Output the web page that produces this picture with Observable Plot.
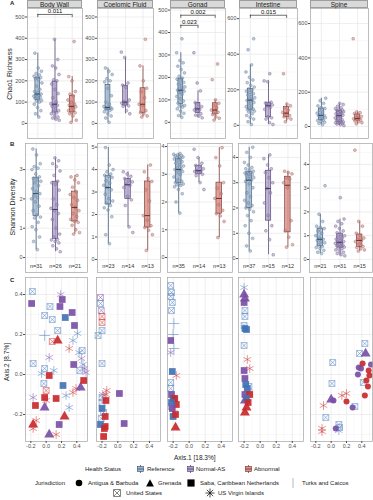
<!DOCTYPE html>
<html><head><meta charset="utf-8">
<script src="https://cdn.jsdelivr.net/npm/d3@7"></script>
<script src="https://cdn.jsdelivr.net/npm/@observablehq/plot@0.6"></script>
<style>
body{margin:0;background:#fff;}
#fig{position:relative;width:373px;height:500px;overflow:hidden;font-family:"Liberation Sans",Arial,sans-serif;color:#1a1a1a;}
.strip{position:absolute;background:#d9d9d9;border:0.6px solid #9e9e9e;box-sizing:border-box;font-size:6.5px;text-align:center;line-height:7px;color:#1a1a1a;}
.ytitle{position:absolute;font-size:7px;transform:translate(-50%,-50%) rotate(-90deg);white-space:nowrap;}
.t{position:absolute;white-space:nowrap;transform:translateY(-50%);font-size:6px;line-height:8px;}
.letter{position:absolute;font-size:6px;font-weight:bold;}
.sym{position:absolute;transform:translateY(-50%);}
</style></head><body><div id="fig"></div><script>
// ---------------- DATA ----------------
const tissues = ["Body Wall","Coelomic Fluid","Gonad","Intestine","Spine"];
const statuses = ["Reference","Normal-AS","Abnormal"];
const jurisdictions = ["Antigua & Barbuda","Grenada","Saba, Caribbean Netherlands","Turks and Caicos","United States","US Virgin Islands"];

// Chao1 richness, per tissue: [Reference, Normal-AS, Abnormal]
const chaoBodyWall = [
  [30,45,60,75,90,100,105,108,112,118,122,125,128,132,135,138,145,150,160,175,190,205,210,215,218,222,228,235,245,260,330],
  [15,20,25,30,38,45,50,55,60,70,80,85,88,92,100,120,140,160,185,200,205,230,260,270,300,395],
  [5,15,35,45,50,52,60,65,72,78,80,85,90,100,110,130,137,150,200,220,385]];
const chaoCoelomic = [
  [5,25,35,45,55,60,65,68,70,72,74,75,80,90,100,130,165,195,200,210,230,245,260],
  [45,60,80,82,90,95,98,102,110,170,180,190,310,335],
  [30,35,45,50,60,85,90,120,150,165,200,270,395]];
const chaoGonad = [
  [22,30,40,50,60,68,72,75,78,85,95,105,115,125,132,138,140,143,148,152,158,165,170,178,185,192,197,205,220,235,250,265,275,310,372],
  [20,28,32,38,50,55,58,62,70,80,88,140,175,310],
  [10,18,25,35,45,50,55,65,75,85,100,190,260]];
const chaoIntestine = [
  [5,20,35,45,55,65,75,80,85,88,92,98,105,112,120,128,135,140,142,148,155,162,170,178,185,192,200,205,215,225,240,255,270,300,340,425,487],
  [5,15,35,42,48,90,100,110,115,120,125,130,245,250,290],
  [20,35,42,48,55,65,72,85,100,110,120,290]];
const chaoSpine = [
  [10,18,25,30,35,38,45,52,58,62,65,70,78,85,95,105,110,120,135,150,165],
  [5,10,14,18,20,22,23,24,26,30,35,40,45,50,58,63,66,70,74,78,82,86,90,94,96,100,105,110,118,128,135],
  [15,22,28,32,38,42,45,47,52,58,65,75,80,85,512]];

// Shannon diversity, per tissue: [Reference, Normal-AS, Abnormal]
const shanBodyWall = [
  [0.27,0.55,0.7,0.95,1.05,1.2,1.35,1.38,1.45,1.6,1.75,1.9,2.0,2.05,2.1,2.18,2.25,2.35,2.45,2.55,2.6,2.65,2.7,2.75,2.85,3.0,3.05,3.1,3.2,3.5,3.7],
  [0.2,0.3,0.4,0.5,0.55,0.6,0.62,0.7,0.8,1.0,1.3,1.5,1.6,1.68,1.8,2.0,2.3,2.5,2.55,2.6,2.8,2.95,3.1,3.2,3.3,3.4],
  [0.8,0.85,0.95,1.1,1.2,1.23,1.3,1.4,1.5,1.6,1.71,1.8,1.95,2.05,2.15,2.25,2.4,2.55,2.65,2.75,2.8]];
const shanCoelomic = [
  [0.7,1.1,1.9,2.2,2.3,2.4,2.5,2.6,2.7,2.9,3.1,3.2,3.3,3.4,3.5,3.65,3.7,3.75,3.8,3.9,4.0,4.2,4.98],
  [1.2,1.45,2.4,2.65,2.8,3.2,3.3,3.35,3.45,3.5,3.6,3.7,3.8,3.9],
  [0.4,1.1,1.3,1.42,1.5,1.75,1.95,2.6,3.1,3.47,3.6,3.9,4.2]];
const shanGonad = [
  [1.6,2.0,2.3,2.45,2.55,2.6,2.62,2.65,2.66,2.7,2.75,2.8,2.9,3.0,3.05,3.1,3.15,3.17,3.2,3.25,3.3,3.35,3.4,3.45,3.5,3.55,3.57,3.6,3.62,3.64,3.66,3.68,3.7,3.72,3.75],
  [2.45,2.7,2.95,3.0,3.05,3.1,3.12,3.14,3.2,3.28,3.32,3.4,3.6,3.9],
  [0.72,1.3,1.5,1.58,1.7,1.9,2.13,2.3,2.5,2.7,3.3,3.6,3.96]];
const shanIntestine = [
  [0.3,0.5,0.8,1.0,1.3,1.5,1.7,1.85,1.95,2.0,2.1,2.2,2.3,2.45,2.6,2.8,2.95,3.05,3.1,3.15,3.2,3.25,3.3,3.32,3.35,3.38,3.4,3.42,3.45,3.5,3.55,3.6,3.7,3.8,4.0,4.2,4.4],
  [0.15,0.75,1.1,1.3,1.7,2.2,2.6,2.77,3.0,3.2,3.4,3.55,3.7,3.95,4.1],
  [0.45,0.55,0.85,1.1,1.5,2.8,3.0,3.15,3.2,3.35,3.4,3.45]];
const shanSpine = [
  [0.25,0.3,0.38,0.45,0.5,0.55,0.62,0.7,0.75,0.8,0.85,0.9,1.0,1.1,1.2,1.3,1.35,1.4,1.6,1.9,3.1],
  [0.15,0.2,0.25,0.3,0.35,0.4,0.45,0.48,0.52,0.55,0.58,0.6,0.65,0.68,0.7,0.72,0.75,0.8,0.85,0.9,0.95,1.0,1.05,1.12,1.2,1.3,1.4,1.5,1.6,1.7,2.6],
  [0.35,0.4,0.45,0.5,0.55,0.65,0.75,0.8,0.85,0.9,1.0,1.1,1.4,1.6,4.6]];

const nLabels = [["n=31","n=26","n=21"],["n=23","n=14","n=13"],["n=35","n=14","n=13"],["n=37","n=15","n=12"],["n=21","n=31","n=15"]];

// significance brackets: [group1, group2, value, label]
const sigBodyWall = [[1,3,512,"0.011"]];
const sigGonad = [[1,3,477,"0.002"],[1,2,432,"0.023"]];
const sigIntestine = [[1,3,619,"0.015"]];

// tick labels
const chaoTicks = [[0,100,200,300,400,500],[0,100,200,300,400,500],[0,100,200,300,400,500],[0,200,400,600],[0,200,400,600]];
const shanTicks = [[0,1,2,3],[0,1,2,3,4,5],[0,1,2,3,4],[0,1,2,3,4],[0,1,2,3,4]];
const pcoaTicks = [-0.2,0,0.2,0.4];

// PCoA points: [Axis.1, Axis.2, status index, jurisdiction index]
const pcoaBodyWall = [
 [-0.18,0.415,0,4],[-0.19,0.355,1,2],[0.19,0.40,1,5],[0.21,0.375,1,2],[0.05,0.34,0,4],[0.18,0.34,1,2],[0.34,0.31,1,2],
 [0.25,0.285,0,2],[-0.02,0.295,0,4],[0.08,0.275,0,4],[0.37,0.245,1,2],[0.15,0.22,0,4],[-0.02,0.195,0,3],[0.41,0.205,0,5],
 [0.15,0.17,2,1],[0.08,0.165,2,4],[0.30,0.13,2,5],[0.35,0.17,0,5],[-0.17,0.055,0,4],[0.04,0.085,1,5],[0.36,0.05,1,2],
 [0.43,0.11,0,5],[0.46,0.08,1,5],[0.48,0.05,0,5],[0.50,0.03,1,5],[0.44,0.02,0,4],[0.52,0.01,1,5],[0.47,0.12,0,4],
 [-0.02,0.03,0,4],[0.10,0.02,0,5],[0.04,-0.005,2,2],[-0.06,0.005,0,5],[-0.03,-0.045,0,4],[0.22,-0.055,0,2],
 [0.49,-0.03,2,2],[0.45,-0.065,1,1],[0.39,-0.07,2,5],[0.35,-0.09,2,5],[0.0,-0.08,2,4],[0.26,-0.105,0,5],
 [-0.17,-0.115,1,5],[-0.02,-0.115,2,2],[0.13,-0.12,2,2],[0.0,-0.13,2,5],[-0.14,-0.155,2,2],[-0.02,-0.165,1,1],
 [0.30,-0.165,0,5],[0.24,-0.21,2,1],[-0.13,-0.23,2,5],[-0.17,-0.25,2,1],[0.17,-0.25,1,2],[-0.17,-0.27,2,5],
 [0.04,-0.30,1,1],[0.13,-0.30,2,5]];
const pcoaCoelomic = [
 [-0.22,0.385,1,4],[-0.22,0.355,0,4],[-0.21,0.32,1,4],[-0.2,0.29,2,4],[-0.2,0.26,2,4],[-0.2,0.22,0,4],[-0.25,0.195,0,4],
 [-0.2,0.055,0,4],[-0.14,-0.08,2,5],[-0.2,-0.115,0,4],[0.02,-0.095,1,2],[-0.15,-0.13,2,2],[-0.16,-0.21,2,2],
 [-0.16,-0.26,2,2],[-0.2,-0.17,0,2],[-0.22,-0.25,0,2],[0.08,-0.245,1,2],[-0.2,-0.14,0,4],[-0.18,-0.19,0,4],
 [-0.17,-0.27,2,2],[-0.18,-0.31,2,2],[-0.19,-0.10,1,5],[-0.15,-0.1,2,5],[-0.21,-0.22,0,4]];
const pcoaGonad = [
 [-0.23,0.445,0,4],[-0.22,0.41,0,4],[-0.23,0.39,0,4],[-0.21,0.36,0,4],[-0.22,0.32,0,4],[-0.19,0.255,0,3],[-0.2,0.2,0,3],
 [-0.19,0.13,0,3],[-0.23,0.17,1,2],[-0.23,0.11,1,5],[-0.21,0.015,0,2],[-0.16,-0.005,2,5],[-0.23,-0.04,0,4],
 [-0.23,-0.07,0,4],[-0.22,-0.1,1,2],[-0.2,-0.12,0,2],[-0.18,-0.12,2,2],[-0.16,-0.15,2,2],[-0.22,-0.14,0,2],
 [-0.21,-0.17,1,2],[-0.19,-0.19,2,5],[-0.2,-0.21,0,2],[-0.22,-0.16,0,4],[-0.17,-0.2,2,2],[-0.17,-0.265,2,1]];
const pcoaIntestine = [
 [-0.2,0.435,0,5],[-0.2,0.40,1,1],[-0.19,0.38,1,1],[-0.2,0.36,1,2],[-0.19,0.32,0,4],[-0.19,0.29,0,4],[-0.2,0.245,0,4],
 [-0.19,0.23,0,2],[-0.17,0.225,0,2],[-0.2,0.145,0,4],[-0.16,0.075,2,5],[-0.2,0.02,1,2],[-0.13,0.03,2,5],
 [-0.19,-0.02,1,2],[-0.18,-0.05,0,2],[-0.16,-0.07,0,2],[-0.14,-0.09,0,5],[-0.14,-0.06,0,4],[-0.19,-0.1,1,2],
 [-0.13,-0.1,2,2],[-0.17,-0.12,0,2],[-0.19,-0.13,1,1],[-0.15,-0.14,2,2],[-0.17,-0.165,2,1],[-0.19,-0.19,2,1]];
const pcoaSpine = [
 [0.44,0.155,0,4],[0.37,0.105,0,4],[0.45,0.105,1,1],[0.02,0.06,0,4],[0.36,0.035,1,0],[0.39,0.03,1,0],[0.41,0.055,2,0],
 [0.49,0.02,2,0],[0.5,-0.005,2,0],[0.46,-0.03,2,0],[0.52,0.05,1,0],[0.01,-0.045,0,4],[0.42,-0.04,0,4],
 [0.2,-0.095,2,5],[0.14,-0.105,2,5],[-0.1,-0.155,2,5],[0.03,-0.13,1,0],[0.0,-0.125,1,1],[0.2,-0.135,2,0],
 [0.44,-0.105,2,0],[0.31,-0.16,0,4],[0.28,-0.165,1,0],[-0.07,-0.215,0,4],[0.1,-0.25,0,4],[0.11,-0.265,0,4],
 [0.06,-0.27,1,0],[-0.12,-0.27,2,5],[-0.12,-0.285,2,5],[0.1,-0.28,0,5],[0.48,-0.06,2,0],[0.35,0.0,1,0]];

// ---------------- STYLE ----------------
const FONT = '"Liberation Sans", Arial, sans-serif';
const boxFill = ["#a3bad2","#b1a3cd","#dc938c"];
const boxStroke = ["#2d4969","#463767","#722b27"];
const ptFill = ["#8ea3ba","#9f92b8","#c98e89"];
const ptStroke = ["#5b7898","#6d5c8e","#9f5954"];
const cFill = ["#4173b4","#7a4fa6","#c9292d"];
const cStroke = ["#5c89c6","#8b64b4","#d2413f"];
const ML = 16;
const fig = document.getElementById("fig");

function place(el, left, top){
  el.style.position = "absolute"; el.style.left = left + "px"; el.style.top = top + "px";
  el.style.overflow = "visible"; fig.appendChild(el);
}
function addDiv(cls, text, css){
  const d = document.createElement("div"); d.className = cls; d.textContent = text;
  Object.assign(d.style, css); fig.appendChild(d); return d;
}
function minorOf(ticks, domain){
  const st = ticks[1] - ticks[0], out = [];
  for (let v = ticks[0] - st / 2; v <= domain[1]; v += st) if (v >= domain[0]) out.push(v);
  return out;
}
function boxStats(groups){
  return groups.map((vals, i) => {
    const s = vals.slice().sort(d3.ascending);
    const q1 = d3.quantile(s, .25), med = d3.quantile(s, .5), q3 = d3.quantile(s, .75), iqr = q3 - q1;
    return {g: i + 1, q1, med, q3,
      lo: d3.min(s.filter(v => v >= q1 - 1.5 * iqr)), hi: d3.max(s.filter(v => v <= q3 + 1.5 * iqr))};
  });
}
function jitterRows(groups){
  const rows = [];
  groups.forEach((vals, gi) => vals.forEach((v, i) =>
    rows.push({g: gi + 1, v, j: (((i + 1) * 0.6180339887 + gi * 0.37) % 1 - 0.5) * 0.5})));
  return rows;
}
const styleBase = {fontFamily: FONT, fontSize: "5.5px", color: "#4d4d4d", background: "transparent", overflow: "visible"};
const HALF = 0.14;

function boxPanel(groups, fx, fy, fw, fh, xDomain, yDomain, ticks, sig, nlab){
  const stats = boxStats(groups), rows = jitterRows(groups);
  const tip = (yDomain[1] - yDomain[0]) * 0.024;
  const marks = [
    Plot.gridY(minorOf(ticks, yDomain), {stroke: "#f1f1f1", strokeOpacity: 1, strokeWidth: 0.5}),
    Plot.gridY(ticks, {stroke: "#e2e2e2", strokeOpacity: 1, strokeWidth: 0.6}),
    Plot.gridX([1, 2, 3], {stroke: "#e2e2e2", strokeOpacity: 1, strokeWidth: 0.6}),
    Plot.ruleX(stats, {x: "g", y1: "lo", y2: "hi", stroke: d => boxStroke[d.g - 1], strokeWidth: 0.7}),
    Plot.rect(stats, {x1: d => d.g - HALF, x2: d => d.g + HALF, y1: "q1", y2: "q3",
      fill: d => boxFill[d.g - 1], fillOpacity: 0.85, stroke: d => boxStroke[d.g - 1], strokeWidth: 0.6}),
    Plot.dot(rows, {x: d => d.g + d.j, y: "v", r: 1.45, fill: d => ptFill[d.g - 1], fillOpacity: 0.55,
      stroke: d => ptStroke[d.g - 1], strokeOpacity: 0.75, strokeWidth: 0.5}),
    Plot.ruleY(stats, {y: "med", x1: d => d.g - HALF, x2: d => d.g + HALF, stroke: d => boxStroke[d.g - 1], strokeWidth: 1}),
    Plot.frame({stroke: "#a3a3a3", strokeWidth: 0.7}),
    Plot.axisY(ticks, {tickSize: 2, tickPadding: 1, fontSize: 5.5, tickFormat: d => String(d)})
  ];
  if (sig) {
    marks.push(
      Plot.ruleY(sig, {y: d => d[2], x1: d => d[0], x2: d => d[1], stroke: "#111", strokeWidth: 0.6}),
      Plot.ruleX(sig, {x: d => d[0], y1: d => d[2], y2: d => d[2] - tip, stroke: "#111", strokeWidth: 0.6}),
      Plot.ruleX(sig, {x: d => d[1], y1: d => d[2], y2: d => d[2] - tip, stroke: "#111", strokeWidth: 0.6}),
      Plot.text(sig, {x: d => (d[0] + d[1]) / 2, y: d => d[2], text: d => d[3], dy: -3.5, fontSize: 6, fill: "#111"}));
  }
  if (nlab) marks.push(Plot.text(nlab, {x: (d, i) => i + 1, text: d => d, frameAnchor: "bottom", dy: -5, fontSize: 5.5, fill: "#333"}));
  const svg = Plot.plot({width: fw + ML, height: fh, marginLeft: ML, marginRight: 0, marginTop: 0, marginBottom: 0,
    x: {domain: xDomain, axis: null}, y: {domain: yDomain, axis: null}, color: {type: "identity"},
    style: styleBase, marks});
  place(svg, fx - ML, fy);
}

const boxX = {draw(ctx, size){
  const s = Math.sqrt(size) / 2;
  ctx.moveTo(-s, -s); ctx.lineTo(s, -s); ctx.lineTo(s, s); ctx.lineTo(-s, s); ctx.closePath();
  ctx.moveTo(-s, -s); ctx.lineTo(s, s); ctx.moveTo(s, -s); ctx.lineTo(-s, s);
}};
const jurSymbol = ["circle", "triangle", "square", "plus", boxX, "asterisk"];
const jurFilled = [true, true, true, false, false, false];
const jurR = [3.0, 3.7, 3.8, 3.6, 3.3, 4.1];
const pxDomain = [-0.27, 0.54], pyDomain = [-0.335, 0.485];

function pcoaPanel(pts, fx, fy, fw, fh, showY){
  const yt = [-0.2, 0, 0.2, 0.4];
  const marks = [
    Plot.gridX(minorOf(pcoaTicks, pxDomain), {stroke: "#f1f1f1", strokeOpacity: 1, strokeWidth: 0.5}),
    Plot.gridY(minorOf(yt, pyDomain), {stroke: "#f1f1f1", strokeOpacity: 1, strokeWidth: 0.5}),
    Plot.gridX(pcoaTicks, {stroke: "#e2e2e2", strokeOpacity: 1, strokeWidth: 0.6}),
    Plot.gridY(yt, {stroke: "#e2e2e2", strokeOpacity: 1, strokeWidth: 0.6})
  ];
  for (const j of [4, 5, 3, 0, 1, 2]) {
    const sub = pts.filter(p => p[3] === j);
    if (jurFilled[j]) marks.push(Plot.dot(sub, {x: p => p[0], y: p => p[1], symbol: jurSymbol[j], r: jurR[j],
      fill: p => cFill[p[2]], fillOpacity: 0.92, stroke: "none"}));
    else marks.push(Plot.dot(sub, {x: p => p[0], y: p => p[1], symbol: jurSymbol[j], r: jurR[j],
      fill: "none", stroke: p => cStroke[p[2]], strokeOpacity: 0.8, strokeWidth: 0.7}));
  }
  marks.push(Plot.frame({stroke: "#a3a3a3", strokeWidth: 0.7}),
    Plot.axisX(pcoaTicks, {tickSize: 2, tickPadding: 1, fontSize: 5.5, tickFormat: d => d.toFixed(1)}));
  if (showY) marks.push(Plot.axisY(yt, {tickSize: 2, tickPadding: 1, fontSize: 5.5, tickFormat: d => d.toFixed(1)}));
  const svg = Plot.plot({width: fw + ML, height: fh + 12, marginLeft: ML, marginRight: 0, marginTop: 0, marginBottom: 12,
    x: {domain: pxDomain, axis: null}, y: {domain: pyDomain, axis: null}, color: {type: "identity"},
    style: styleBase, marks});
  place(svg, fx - ML, fy);
}

// ---------------- LAYOUT ----------------
const chaoData = [chaoBodyWall, chaoCoelomic, chaoGonad, chaoIntestine, chaoSpine];
const shanData = [shanBodyWall, shanCoelomic, shanGonad, shanIntestine, shanSpine];
const pcoaData = [pcoaBodyWall, pcoaCoelomic, pcoaGonad, pcoaIntestine, pcoaSpine];
const sigData = [sigBodyWall, null, sigGonad, sigIntestine, null];
const chaoDomain = [[-71,540],[-71,540],[-72,507],[-74,657],[-70,688]];
const shanDomain = [[-0.51,3.89],[-0.58,5.16],[-0.54,4.11],[-0.55,4.55],[-0.55,4.88]];
const frameA = [[27,55],[97,56],[170,55],[239,58],[310,58]];
const frameB = [[25,62],[97,63],[167,65],[238,62],[309,63]];
const frameC = [[25,62],[96,64],[167,65],[238,65],[310,62]];

tissues.forEach((t, i) => {
  const [ax, aw] = frameA[i];
  addDiv("strip", t, {left: ax + "px", top: "0px", width: aw + "px", height: "8px"});
  boxPanel(chaoData[i], ax, 8, aw, 130, [0.4, 3.6], chaoDomain[i], chaoTicks[i], sigData[i], null);
  const [bx, bw] = frameB[i];
  boxPanel(shanData[i], bx, 143, bw, 129, [0.45, 3.65], shanDomain[i], shanTicks[i], null, nLabels[i]);
  const [cx, cw] = frameC[i];
  pcoaPanel(pcoaData[i], cx, 277, cw, 164, i === 0);
});

addDiv("letter", "A", {left: "10px", top: "0px"});
addDiv("letter", "B", {left: "10px", top: "141px"});
addDiv("letter", "C", {left: "10px", top: "277px"});
addDiv("ytitle", "Chao1 Richness", {left: "9px", top: "74px"});
addDiv("ytitle", "Shannon Diversity", {left: "12px", top: "207px"});
addDiv("ytitle", "Axis.2   [8.7%]", {left: "6px", top: "362px", fontSize: "6.5px"});
addDiv("t", "Axis.1   [18.3%]", {left: "174px", top: "458px", fontSize: "6.5px"});

// ---------------- LEGEND ----------------
function addSym(svgInner, x, y, w, h){
  const s = document.createElement("div"); s.className = "sym";
  s.style.left = x + "px"; s.style.top = y + "px";
  s.innerHTML = `<svg width="${w}" height="${h}" style="display:block;overflow:visible">${svgInner}</svg>`;
  fig.appendChild(s);
}
const keyBox = i => `<line x1="3.5" y1="0" x2="3.5" y2="8" stroke="${boxStroke[i]}" stroke-width="0.7"/>
  <rect x="0.5" y="1.5" width="6" height="5" fill="${boxFill[i]}" stroke="${boxStroke[i]}" stroke-width="0.6"/>
  <line x1="0.5" y1="4" x2="6.5" y2="4" stroke="${boxStroke[i]}" stroke-width="0.8"/>`;
const row1 = 469, row2 = 483, row3 = 493;
addDiv("t", "Health Status", {left: "85px", top: row1 + "px"});
const keyX = [137, 187, 245], keyTX = [147, 196, 254];
statuses.forEach((s, i) => { addSym(keyBox(i), keyX[i], row1, 7, 8); addDiv("t", s, {left: keyTX[i] + "px", top: row1 + "px"}); });

addDiv("t", "Jurisdiction", {left: "35px", top: row2 + "px"});
const jurSvg = [
  `<circle cx="4" cy="4" r="3.3" fill="#000"/>`,
  `<polygon points="4,0.3 7.9,7.6 0.1,7.6" fill="#000"/>`,
  `<rect x="0.4" y="0.4" width="7.2" height="7.2" fill="#000"/>`,
  `<line x1="4" y1="-1" x2="4" y2="9" stroke="#8a8a8a" stroke-width="0.6"/>`,
  `<rect x="0.7" y="0.7" width="6.6" height="6.6" fill="none" stroke="#333" stroke-width="0.6"/><path d="M0.7,0.7L7.3,7.3M7.3,0.7L0.7,7.3" stroke="#333" stroke-width="0.6"/>`,
  `<path d="M4,-0.5V8.5M-0.5,4H8.5M0.8,0.8L7.2,7.2M7.2,0.8L0.8,7.2" stroke="#000" stroke-width="0.7"/>`
];
const jurPos = [[75,row2,88],[146,row2,158],[187,row2,200],[289,row2,302],[113,row3,126],[206,row3,218]];
jurisdictions.forEach((j, i) => {
  const [sx, sy, tx] = jurPos[i];
  addSym(jurSvg[i], sx, sy, 8, 8);
  addDiv("t", j, {left: tx + "px", top: sy + "px"});
});
</script></body></html>
